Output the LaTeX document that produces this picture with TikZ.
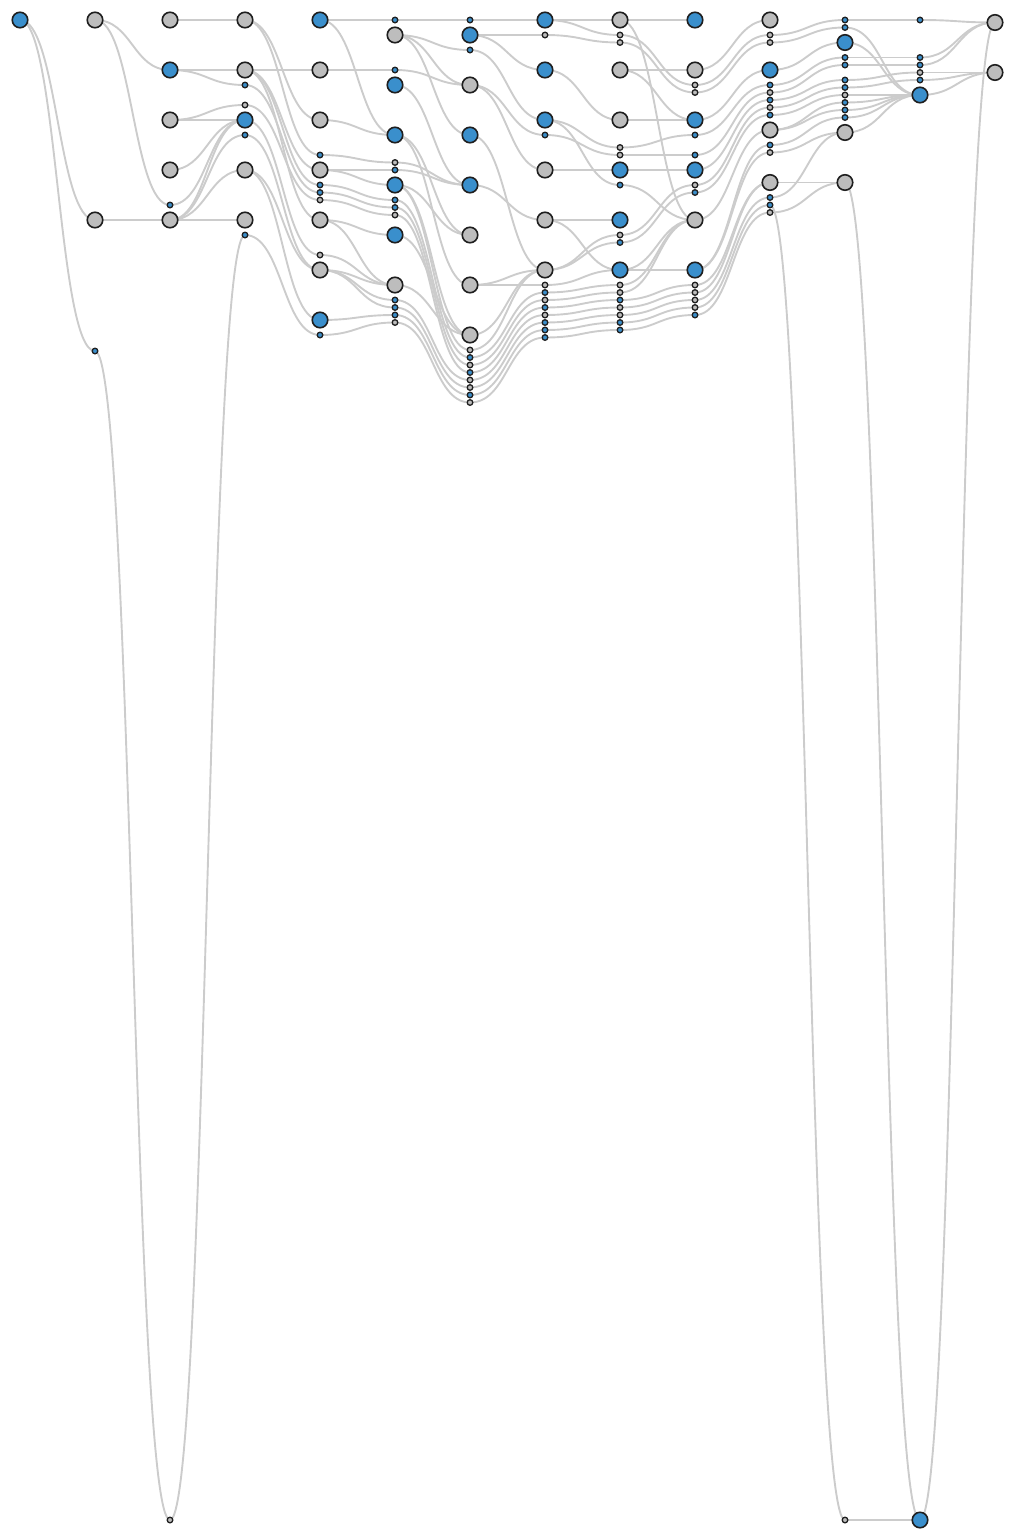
\documentclass[tikz,border=0pt]{standalone}
\usetikzlibrary{backgrounds}
\definecolor{blu}{HTML}{3A8FCC}
\definecolor{gry}{HTML}{BDBDBD}
\definecolor{edg}{HTML}{CCCCCC}
\definecolor{strk}{HTML}{1F1F1F}
\begin{document}
\begin{tikzpicture}[x=1pt,y=-1pt,
 bb/.style={circle,draw=strk,fill=blu,line width=1.6pt,minimum size=15.5pt,inner sep=0pt},
 bg/.style={bb,fill=gry},
 sb/.style={circle,draw=strk,fill=blu,line width=1.3pt,minimum size=5.6pt,inner sep=0pt},
 sg/.style={sb,fill=gry},
 lnk/.style={draw=edg,line width=1.9pt}]
\useasboundingbox (0,0) rectangle (1015,1540);
\foreach \n/\y/\s in {20/20/bb} \node[\s] (A\n) at (20,\y) {};
\foreach \n/\y/\s in {20/20/bg,220/220/bg,351/351/sb} \node[\s] (B\n) at (95,\y) {};
\foreach \n/\y/\s in {20/20/bg,70/70/bb,120/120/bg,170/170/bg,204/205/sb,220/220/bg,1520/1520/sg} \node[\s] (C\n) at (170,\y) {};
\foreach \n/\y/\s in {20/20/bg,70/70/bg,85/85/sb,105/105/sg,120/120/bb,135/135/sb,170/170/bg,220/220/bg,235/235/sb} \node[\s] (D\n) at (245,\y) {};
\foreach \n/\y/\s in {20/20/bb,70/70/bg,120/120/bg,155/155/sb,170/170/bg,185/185/sb,192/192.5/sb,200/200/sg,220/220/bg,255/255/sg,270/270/bg,320/320/bb,335/335/sb} \node[\s] (E\n) at (320,\y) {};
\foreach \n/\y/\s in {20/20/sb,35/35/bg,70/70/sb,85/85/bb,135/135/bb,162/162.5/sg,170/170/sb,185/185/bb,200/200/sb,207/207.5/sb,215/215/sg,235/235/bb,285/285/bg,300/300/sb,307/307.5/sb,315/315/sb,322/322.5/sg} \node[\s] (F\n) at (395,\y) {};
\foreach \n/\y/\s in {20/20/sb,35/35/bb,50/50/sb,85/85/bg,135/135/bb,185/185/bb,235/235/bg,285/285/bg,335/335/bg,350/350/sg,357/357.5/sb,365/365/sg,372/372.5/sb,380/380/sg,387/387.5/sg,395/395/sb,402/402.5/sg} \node[\s] (G\n) at (470,\y) {};
\foreach \n/\y/\s in {20/20/bb,35/35/sg,70/70/bb,120/120/bb,135/135/sb,170/170/bg,220/220/bg,270/270/bg,285/285/sg,292/292.5/sb,300/300/sg,307/307.5/sb,315/315/sg,322/322.5/sb,330/330/sb,337/337.5/sb} \node[\s] (H\n) at (545,\y) {};
\foreach \n/\y/\s in {20/20/bg,35/35/sg,42/42.5/sg,70/70/bg,120/120/bg,147/147.5/sg,155/155/sg,170/170/bb,185/185/sb,220/220/bb,235/235/sg,242/242.5/sb,270/270/bb,285/285/sg,292/292.5/sg,300/300/sb,307/307.5/sg,315/315/sg,322/322.5/sb,330/330/sb} \node[\s] (I\n) at (620,\y) {};
\foreach \n/\y/\s in {20/20/bb,70/70/bg,85/85/sg,92/92.5/sg,120/120/bb,135/135/sb,155/155/sb,170/170/bb,185/185/sg,192/192.5/sb,220/220/bg,270/270/bb,285/285/sg,292/292.5/sg,300/300/sg,307/307.5/sg,315/315/sb} \node[\s] (J\n) at (695,\y) {};
\foreach \n/\y/\s in {20/20/bg,35/35/sg,42/42.5/sg,70/70/bb,85/85/sb,92/92.5/sg,100/100/sb,107/107.5/sg,115/115/sb,130/130/bg,145/145/sb,152/152.5/sg,182/182.5/bg,197/197.5/sb,205/205/sb,212/212.5/sg} \node[\s] (K\n) at (770,\y) {};
\foreach \n/\y/\s in {20/20/sb,27/27.5/sb,42/42.5/bb,57/57.5/sb,65/65/sb,80/80/sb,87/87.5/sb,95/95/sg,102/102.5/sb,110/110/sb,117/117.5/sb,132/132.5/bg,182/182.5/bg,1520/1520/sg} \node[\s] (L\n) at (845,\y) {};
\foreach \n/\y/\s in {20/20/sb,57/57.5/sb,65/65/sb,72/72.5/sg,80/80/sb,95/95/bb,1520/1520/bb} \node[\s] (M\n) at (920,\y) {};
\foreach \n/\y/\s in {22/22.5/bg,72/72.5/bg} \node[\s] (N\n) at (995,\y) {};
\begin{scope}[on background layer]
\foreach \a/\b in {A20/B220,A20/B351,
 B20/C70,B20/C204,B220/C220,B351/C1520,
 C20/D20,C70/D70,C70/D85,C120/D105,C120/D120,C170/D120,C204/D120,C220/D120,C220/D135,C220/D170,C220/D220,C1520/D235,
 D20/E120,D20/E155,D70/E70,D70/E170,D70/E185,D70/E220,D85/E192,D105/E200,D120/E255,D135/E270,D170/E270,D170/E320,D235/E335,
 E20/F20,E20/F135,E70/F70,E120/F135,E155/F162,E170/F170,E170/F185,E185/F200,E192/F207,E200/F215,E220/F235,E220/F285,E255/F285,E270/F285,E270/F300,E270/F307,E320/F315,E335/F322,
 F20/G20,F35/G50,F35/G85,F35/G135,F70/G85,F85/G185,F135/G235,F135/G285,F162/G185,F170/G185,F185/G235,F185/G335,F185/G350,F200/G357,F207/G365,F215/G372,F235/G335,F285/G335,F300/G380,F307/G387,F315/G395,F322/G402,
 G20/H20,G35/H35,G35/H70,G50/H120,G85/H135,G85/H170,G135/H270,G185/H220,G285/H285,G285/H270,G335/H270,G350/H270,G357/H292,G365/H300,G372/H307,G380/H315,G387/H322,G395/H330,G402/H337,
 H20/I20,H20/I35,H35/I42,H70/I120,H120/I147,H135/I155,H120/I185,H170/I170,H220/I220,H220/I270,H270/I235,H270/I242,H285/I270,H292/I285,H300/I292,H307/I300,H315/I307,H322/I315,H330/I322,H337/I330,
 I20/J20,I20/J220,I35/J85,I42/J92,I70/J70,I70/J120,I120/J120,I147/J135,I155/J155,I170/J170,I185/J220,I235/J185,I242/J192,I270/J270,I270/J220,I285/J220,I292/J220,I300/J285,I307/J292,I315/J300,I322/J307,I330/J315,
 J70/K20,J85/K35,J92/K42,J120/K70,J135/K85,J155/K92,J170/K100,J185/K107,J192/K115,J220/K130,J270/K145,J270/K152,J285/K182,J292/K182,J300/K197,J307/K205,J315/K212,
 K35/L20,K42/L27,K70/L42,K85/L57,K92/L65,K100/L80,K107/L87,K115/L95,K130/L102,K130/L110,K145/L117,K152/L132,K182/L182,K197/L132,K205/L1520,K212/L182,
 L20/M20,L27/M95,L42/M95,L57/M57,L65/M65,L80/M72,L87/M80,L95/M95,L102/M95,L110/M95,L117/M95,L132/M95,L182/M1520,L1520/M1520,
 M20/N22,M57/N22,M65/N22,M72/N72,M80/N72,M95/N72,M1520/N22}
 \draw[lnk] (\a.center) .. controls +(37.5,0) and +(-37.5,0) .. (\b.center);
\end{scope}
\end{tikzpicture}
\end{document}
